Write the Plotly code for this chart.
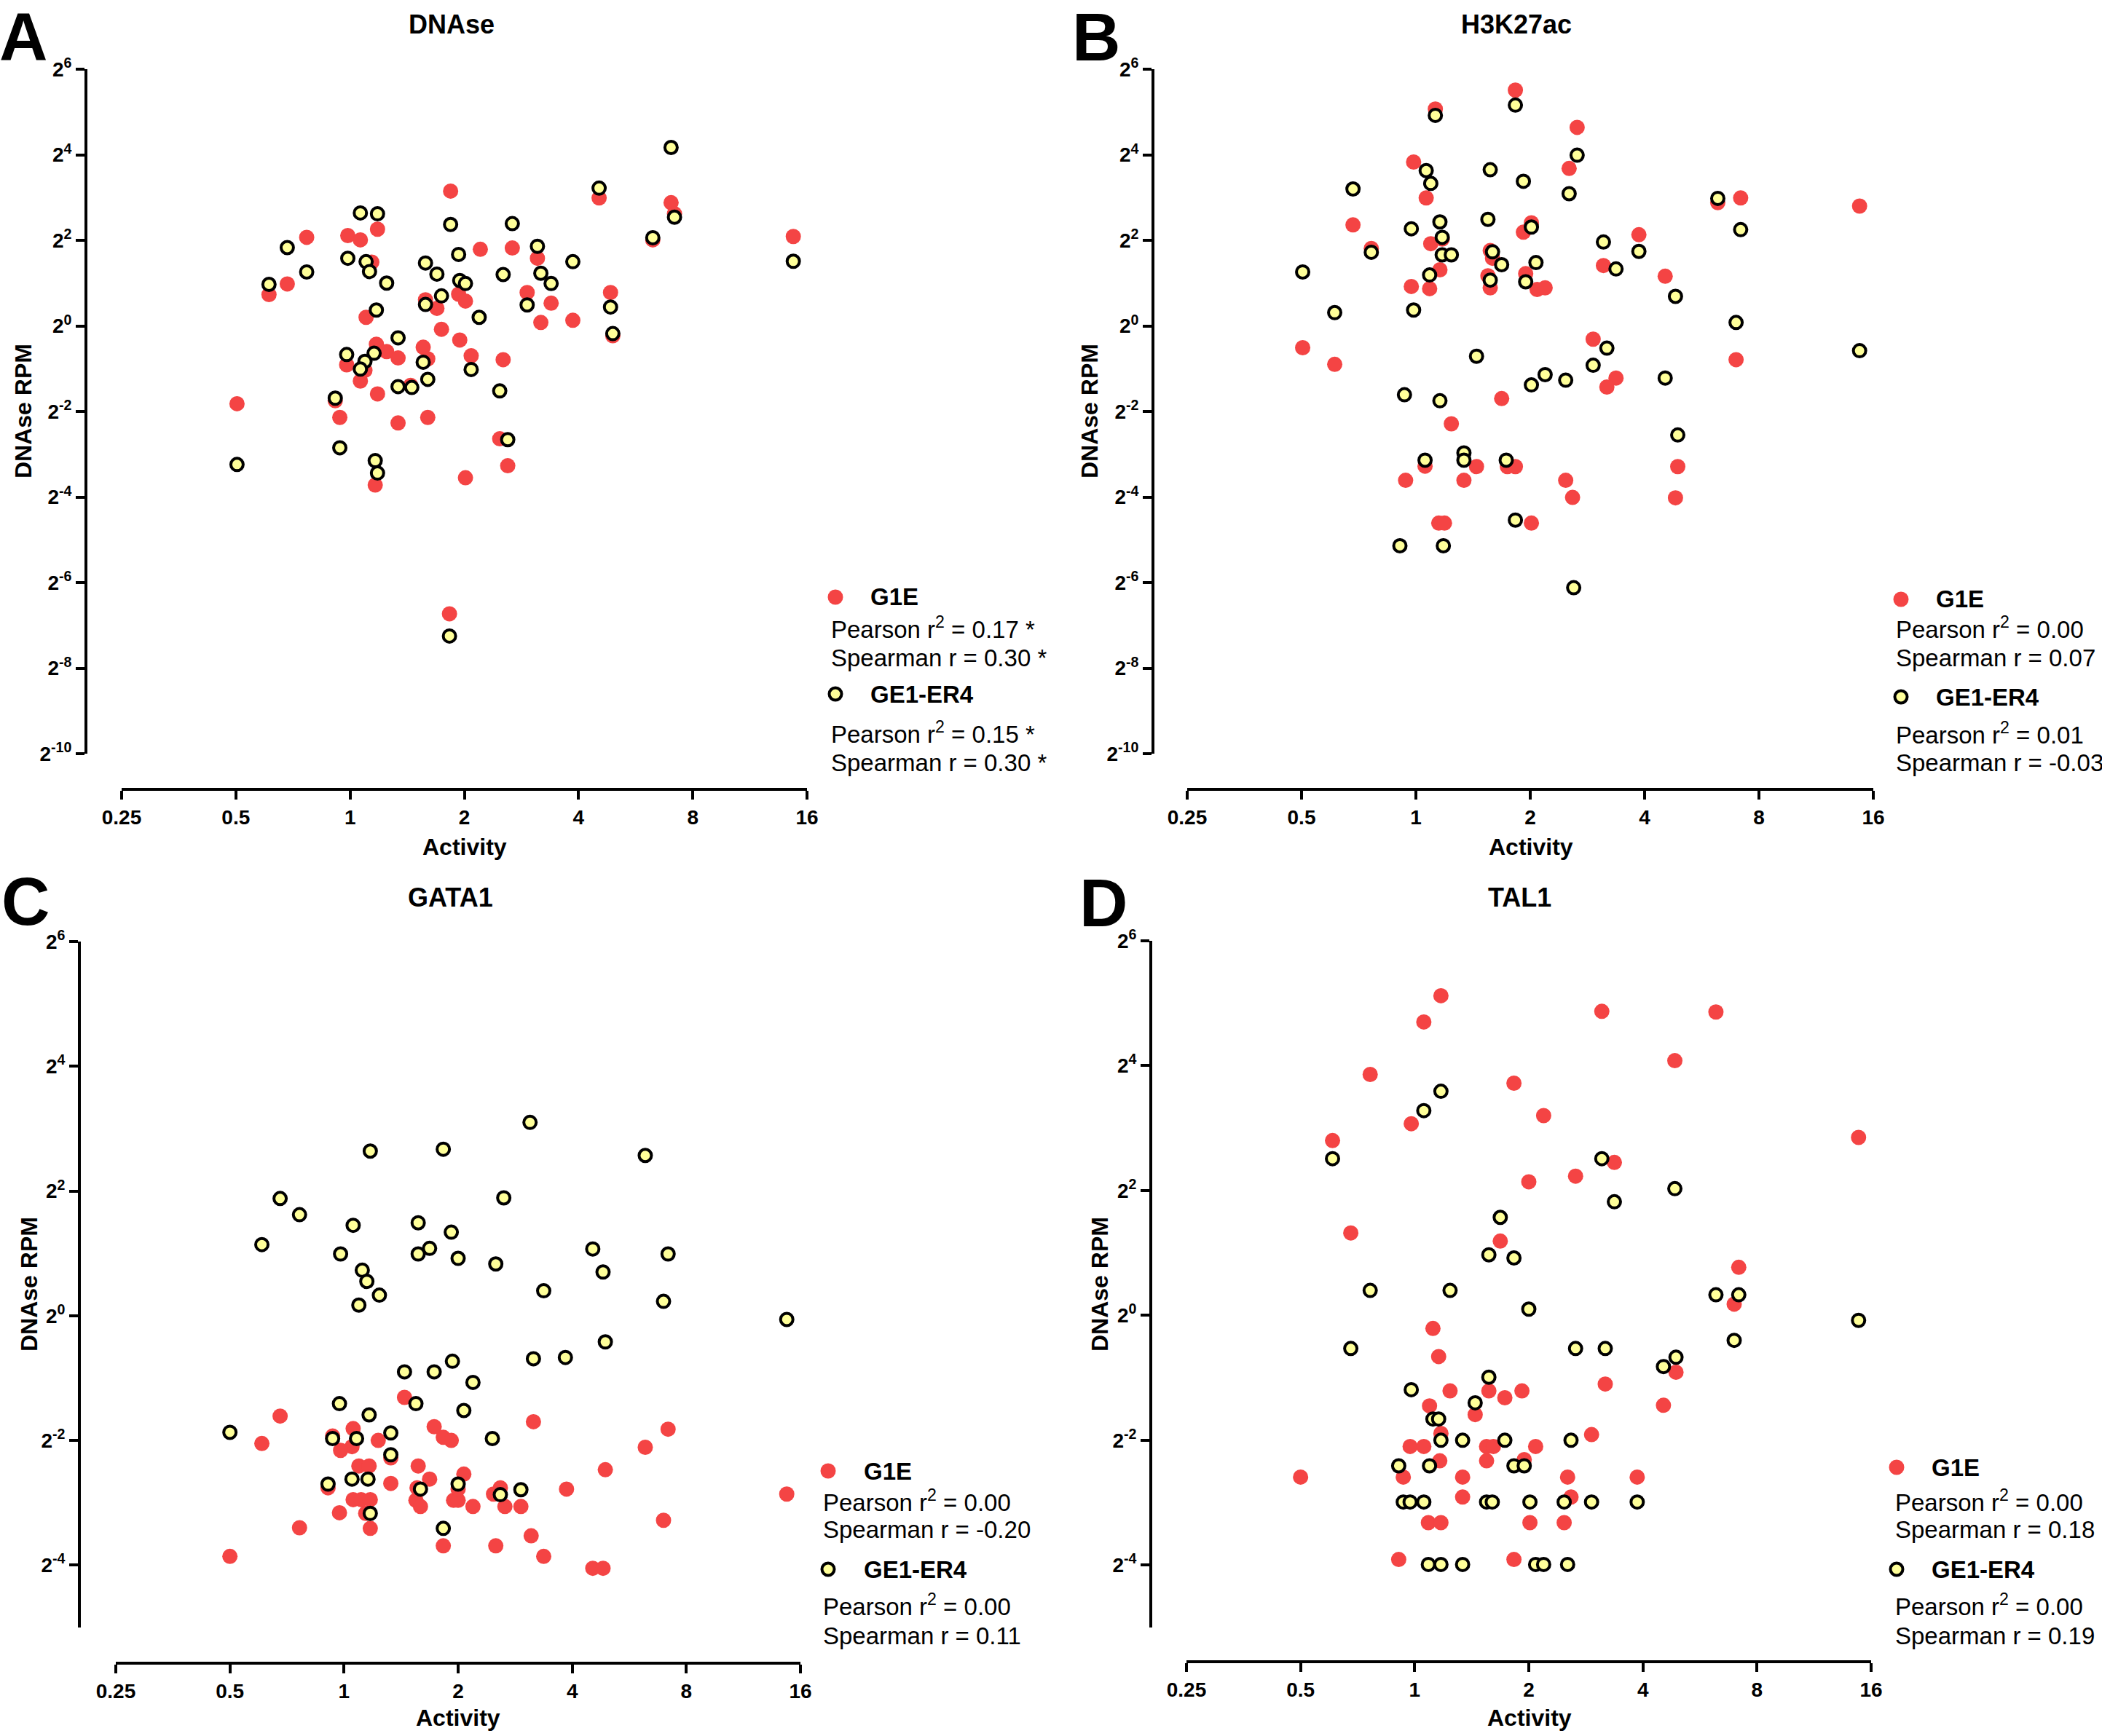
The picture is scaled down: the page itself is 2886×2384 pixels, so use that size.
import plotly.graph_objects as go

W, H = 2886, 2384

# ---------------- data (log2 Activity, log2 DNAse RPM) ----------------
A_G1E_LOG2_ACT = [0.88, 2.18, 2.81, 2.84, 2.65, 3.88, 0.24, -0.02, 0.09, -0.38, 0.19, 1.14, 1.42, 1.64,
                  -0.55, -0.71, 2.28, 1.55, 1.76, 1.95, 1.67, 0.66, 0.76, 0.95, 1.01, 0.14, 0.80, 0.96,
                  1.06, 1.34, 0.64, 0.68, 0.23, 0.32, 0.42, -0.03, 0.13, 0.09, 0.24, 0.53, -0.13, -0.09,
                  0.42, 0.68, 1.31, 1.38, 1.01, 0.22, 2.30, -0.99, 0.87]
A_G1E_LOG2_RPM = [3.15, 2.99, 2.88, 2.62, 2.01, 2.09, 2.26, 2.11, 2.01, 2.07, 1.49, 1.79, 1.82, 1.58,
                  0.98, 0.73, 0.78, 0.78, 0.53, 0.13, 0.08, 0.61, 0.41, 0.74, 0.58, 0.20, -0.08, -0.33,
                  -0.70, -0.79, -0.50, -0.77, -0.43, -0.60, -0.75, -0.91, -1.04, -1.29, -1.59, -1.39, -1.75, -2.14,
                  -2.27, -2.14, -2.64, -3.27, -3.55, -3.72, -0.23, -1.82, -6.73]
A_ER4_LOG2_ACT = [2.81, 2.18, 2.84, 2.65, 3.88, 0.09, 0.24, 0.88, 1.42, -0.55, -0.38, -0.71, -0.02, 0.14,
                  0.17, 0.32, 0.66, 0.76, 0.95, 0.96, 1.01, 0.80, 0.66, 1.13, 1.34, 1.64, 1.67, 1.76,
                  1.95, 1.55, 0.23, 2.28, 2.30, 0.42, -0.03, 0.21, 0.13, 0.09, 0.64, 1.06, 0.68, 0.42,
                  0.54, 1.31, -0.13, 1.38, -0.09, 0.22, 0.24, -0.99, 0.87]
A_ER4_LOG2_RPM = [4.17, 3.22, 2.54, 2.06, 1.51, 2.64, 2.62, 2.37, 2.39, 1.83, 1.26, 0.97, 1.58, 1.50,
                  1.27, 1.00, 1.47, 1.21, 1.67, 1.06, 0.99, 0.70, 0.50, 0.20, 1.20, 1.86, 1.23, 0.99,
                  1.50, 0.49, 0.37, 0.44, -0.18, -0.28, -0.67, -0.64, -0.83, -1.01, -0.85, -1.02, -1.25, -1.42,
                  -1.44, -1.52, -1.69, -2.66, -2.85, -3.15, -3.44, -3.24, -7.25]

B_G1E_LOG2_ACT = [0.87, 0.17, 1.41, -0.02, 1.34, 0.09, 2.84, 2.64, 3.88, -0.55, -0.39, 1.01, 0.94, 0.13,
                  0.23, 0.21, -0.04, 0.12, 0.65, 0.67, 0.63, 0.65, 0.96, 1.06, 1.13, 1.64, 1.95, 2.18,
                  2.80, 1.55, 1.75, 1.67, 0.75, -0.99, -0.71, 0.31, 0.08, 0.53, 0.42, -0.09, 0.80, 0.87,
                  1.31, 1.37, 2.29, 2.27, 0.20, 0.25, 1.01]
B_G1E_LOG2_RPM = [5.51, 5.07, 4.64, 3.83, 3.68, 2.99, 2.99, 2.88, 2.80, 2.36, 1.81, 2.41, 2.19, 1.92,
                  2.03, 1.31, 0.92, 0.87, 1.76, 1.58, 1.17, 0.89, 1.22, 0.85, 0.89, 1.41, 2.13, 1.16,
                  -0.79, -0.31, -1.22, -1.43, -1.70, -0.51, -0.90, -2.29, -3.28, -3.29, -3.61, -3.61, -3.29, -3.29,
                  -3.61, -4.01, -3.29, -4.02, -4.61, -4.61, -4.61]
B_ER4_LOG2_ACT = [0.87, 0.17, 1.41, 0.09, 0.65, 0.13, 0.94, 1.34, -0.55, 2.64, 2.84, -0.04, 0.21, 0.63,
                  1.01, 0.23, -0.39, 0.23, 0.31, 0.67, 0.75, 1.05, 0.65, 0.96, 0.12, -0.99, 1.64, 1.95,
                  1.75, 2.27, -0.71, -0.02, 2.80, 0.53, 1.67, 1.55, 1.13, 1.01, 1.31, 2.18, -0.10, 0.21,
                  2.29, 0.08, 0.42, 0.42, 0.79, 0.87, -0.14, 0.24, 1.38, 3.88]
B_ER4_LOG2_RPM = [5.16, 4.92, 3.99, 3.63, 3.65, 3.33, 3.38, 3.09, 3.20, 2.98, 2.25, 2.27, 2.43, 2.49,
                  2.31, 2.07, 1.72, 1.66, 1.66, 1.73, 1.43, 1.48, 1.07, 1.03, 1.19, 1.26, 1.96, 1.74,
                  1.33, 0.69, 0.31, 0.37, 0.08, -0.71, -0.52, -0.92, -1.14, -1.38, -1.27, -1.22, -1.61, -1.75,
                  -2.55, -3.14, -2.97, -3.14, -3.14, -4.54, -5.14, -5.14, -6.12, -0.58]

C_G1E_LOG2_ACT = [-0.56, -0.72, -1.00, -0.39, 2.84, 2.64, 2.29, 2.80, 2.18, 2.27, 3.88, 0.53, 1.66, 0.79,
                  0.87, 0.94, 0.08, 0.30, -0.10, 0.07, -0.03, 0.13, 0.22, 0.41, 0.65, 0.75, 1.05, 0.41,
                  0.64, 0.63, 0.67, 0.96, 1.00, 1.00, 1.13, 1.31, 1.37, 1.41, 1.55, 1.95, -0.14, -0.04,
                  0.08, 0.15, 0.23, 0.19, 0.23, 0.87, 1.33, 1.64, 1.75]
C_G1E_LOG2_RPM = [-1.61, -2.05, -3.86, -3.40, -1.82, -2.11, -2.47, -3.28, -4.05, -4.05, -2.86, -1.31, -1.70, -1.78,
                  -1.95, -2.00, -1.81, -2.00, -1.93, -2.10, -2.16, -2.41, -2.41, -2.28, -2.41, -2.62, -2.54, -2.69,
                  -2.76, -2.96, -3.06, -2.96, -2.96, -2.78, -3.06, -2.86, -2.76, -3.06, -3.06, -2.78, -2.76, -3.16,
                  -2.95, -2.95, -2.95, -3.17, -3.41, -3.69, -3.69, -3.53, -3.86]
C_ER4_LOG2_ACT = [1.63, 0.23, 0.87, 2.64, -0.56, -0.39, 1.40, 0.08, 0.65, 0.94, -0.72, -0.03, 0.65, 0.75,
                  1.00, 1.33, 2.18, 2.84, 2.27, 0.16, 0.20, 0.31, 0.13, 1.75, 2.80, 3.88, 2.29, 1.66,
                  1.94, 0.95, 0.53, 0.79, 1.13, -0.04, 0.63, 1.05, 0.22, -1.00, -0.10, 0.11, 0.41, 1.30,
                  0.41, -0.14, 0.07, 0.21, 0.67, 1.00, 1.37, 1.55, 0.23, 0.87]
C_ER4_LOG2_RPM = [3.10, 2.64, 2.67, 2.57, 1.88, 1.62, 1.89, 1.45, 1.49, 1.34, 1.14, 0.99, 0.99, 1.08,
                  0.92, 0.83, 1.07, 0.99, 0.70, 0.73, 0.55, 0.33, 0.17, 0.40, 0.23, -0.06, -0.42, -0.69,
                  -0.67, -0.73, -0.90, -0.90, -1.07, -1.41, -1.41, -1.52, -1.59, -1.87, -1.97, -1.97, -1.88, -1.97,
                  -2.23, -2.70, -2.62, -2.62, -2.78, -2.70, -2.87, -2.79, -3.17, -3.41]

D_G1E_LOG2_ACT = [0.23, 0.08, 1.64, 2.64, 2.28, -0.39, 0.87, 1.13, -0.03, -0.72, 3.89, 1.75, 1.41, 1.00,
                  -0.56, 0.75, 2.84, 2.80, 0.16, -1.00, 2.29, 2.18, 0.21, 0.31, 0.65, 0.79, 0.94, 1.67,
                  0.13, 0.53, 1.55, 0.23, -0.04, 0.08, 0.63, 0.69, 1.06, 0.22, 0.63, 0.96, -0.10, 0.42,
                  1.34, 1.95, 0.42, 1.37, 0.12, 0.23, 1.01, 1.31, -0.14, 0.87]
D_G1E_LOG2_RPM = [5.12, 4.70, 4.87, 4.86, 4.08, 3.86, 3.72, 3.20, 3.07, 2.80, 2.85, 2.45, 2.23, 2.14,
                  1.32, 1.19, 0.77, 0.18, -0.21, -2.59, -0.91, -1.44, -0.66, -1.21, -1.21, -1.32, -1.21, -1.10,
                  -1.45, -1.59, -1.91, -1.89, -2.10, -2.10, -2.10, -2.10, -2.10, -2.33, -2.33, -2.31, -2.59, -2.59,
                  -2.59, -2.59, -2.91, -2.91, -3.32, -3.32, -3.32, -3.32, -3.91, -3.91]
D_ER4_LOG2_ACT = [0.23, 0.08, -0.72, 1.64, 2.28, 1.75, 0.75, 0.65, 0.87, -0.39, 0.31, 1.00, 2.64, 2.84,
                  3.89, 2.80, -0.56, 1.41, 1.67, 2.29, 2.18, 0.65, -0.03, 0.53, 0.16, 0.21, 0.23, 0.42,
                  0.79, 1.37, -0.14, 0.13, 0.87, 0.96, -0.10, -0.04, 0.08, 0.63, 0.68, 1.01, 1.31, 1.55,
                  1.95, 0.12, 0.23, 0.42, 1.06, 1.13, 1.34]
D_ER4_LOG2_RPM = [3.59, 3.28, 2.51, 2.51, 2.03, 1.82, 1.57, 0.97, 0.92, 0.40, 0.40, 0.10, 0.33, 0.33,
                  -0.08, -0.40, -0.53, -0.53, -0.53, -0.67, -0.82, -0.99, -1.19, -1.40, -1.66, -1.66, -2.00, -2.00,
                  -2.00, -2.00, -2.41, -2.41, -2.41, -2.41, -2.99, -2.99, -2.99, -2.99, -2.99, -2.99, -2.99, -2.99,
                  -2.99, -3.99, -3.99, -3.99, -3.99, -3.99, -3.99]

PANEL_TITLES = ["DNAse", "H3K27ac", "GATA1", "TAL1"]
PANEL_LETTERS = ["A", "B", "C", "D"]
SERIES_NAMES = ["G1E", "GE1-ER4"]
G1E_STATS = [("0.17 *", "0.30 *"), ("0.00", "0.07"), ("0.00", "-0.20"), ("0.00", "0.18")]
ER4_STATS = [("0.15 *", "0.30 *"), ("0.01", "-0.03"), ("0.00", "0.11"), ("0.00", "0.19")]

X_TICKVALS = [-2, -1, 0, 1, 2, 3, 4]
X_TICKTEXT = ["0.25", "0.5", "1", "2", "4", "8", "16"]
Y_TICKS_AB = [6, 4, 2, 0, -2, -4, -6, -8, -10]
Y_TICKS_CD = [6, 4, 2, 0, -2, -4]

DATA = [
    (A_G1E_LOG2_ACT, A_G1E_LOG2_RPM, A_ER4_LOG2_ACT, A_ER4_LOG2_RPM),
    (B_G1E_LOG2_ACT, B_G1E_LOG2_RPM, B_ER4_LOG2_ACT, B_ER4_LOG2_RPM),
    (C_G1E_LOG2_ACT, C_G1E_LOG2_RPM, C_ER4_LOG2_ACT, C_ER4_LOG2_RPM),
    (D_G1E_LOG2_ACT, D_G1E_LOG2_RPM, D_ER4_LOG2_ACT, D_ER4_LOG2_RPM),
]

# ---------------- layout geometry (pixels) ----------------
GEOM = [
    dict(xdom=(167, 1108), ydom=(95, 1035), yline=118, xline=1084, yr=(-10, 6), yt=Y_TICKS_AB,
         title=(620, 34), letter=(32, 50), ytitle=(32, 565), xtitle=(638, 1163),
         leg=dict(mx=1147, nx=1193, sx=1139, ys=[820, 862, 903, 953, 1006, 1047])),
    dict(xdom=(1630, 2572), ydom=(95, 1035), yline=1583, xline=1084, yr=(-10, 6), yt=Y_TICKS_AB,
         title=(2082, 34), letter=(1505, 51), ytitle=(1496, 565), xtitle=(2102, 1163),
         leg=dict(mx=2610, nx=2656, sx=2601, ys=[823, 862, 903, 957, 1007, 1047])),
    dict(xdom=(159, 1099), ydom=(1293, 2235), yline=109, xline=2284, yr=(-5, 6), yt=Y_TICKS_CD,
         title=(618, 1232), letter=(35, 1238), ytitle=(40, 1764), xtitle=(629, 2359),
         leg=dict(mx=1137, nx=1184, sx=1128, ys=[2020, 2061, 2100, 2155, 2204, 2246])),
    dict(xdom=(1629, 2569), ydom=(1292, 2235), yline=1580, xline=2282, yr=(-5, 6), yt=Y_TICKS_CD,
         title=(2086, 1232), letter=(1515, 1240), ytitle=(1510, 1764), xtitle=(2100, 2359),
         leg=dict(mx=2604, nx=2650, sx=2600, ys=[2015, 2061, 2100, 2155, 2204, 2246])),
]

RED = "#F44444"
YEL = "#FFFF99"
FONT = "Liberation Sans, Arial, Helvetica, sans-serif"


def fx(p):
    return p / W


def fy(p):
    return 1 - p / H


fig = go.Figure()
annotations = []
shapes = []
layout_axes = {}

for i, (g, d) in enumerate(zip(GEOM, DATA)):
    n = "" if i == 0 else str(i + 1)
    xa, ya = "x" + n, "y" + n
    g_act, g_rpm, e_act, e_rpm = d
    fig.add_trace(go.Scatter(x=g_act, y=g_rpm, mode="markers", xaxis=xa, yaxis=ya,
                             name=SERIES_NAMES[0], showlegend=False,
                             marker=dict(color=RED, size=21, line=dict(width=0))))
    fig.add_trace(go.Scatter(x=e_act, y=e_rpm, mode="markers", xaxis=xa, yaxis=ya,
                             name=SERIES_NAMES[1], showlegend=False,
                             marker=dict(color=YEL, size=17, line=dict(width=4, color="black"))))

    layout_axes["xaxis" + n] = dict(
        domain=[fx(g["xdom"][0]), fx(g["xdom"][1])], range=[-2, 4], anchor="free",
        position=fy(g["xline"]), showline=True, linecolor="black", linewidth=4,
        ticks="outside", ticklen=12, tickwidth=4, tickcolor="black",
        tickvals=X_TICKVALS, ticktext=X_TICKTEXT,
        tickfont=dict(family=FONT, size=28, color="black", weight="bold"),
        showgrid=False, zeroline=False, fixedrange=True, automargin=False)
    layout_axes["yaxis" + n] = dict(
        domain=[fy(g["ydom"][1]), fy(g["ydom"][0])], range=list(g["yr"]), anchor="free",
        position=fx(g["yline"]), showline=True, linecolor="black", linewidth=4,
        ticks="outside", ticklen=12, tickwidth=4, tickcolor="black",
        tickvals=g["yt"], ticktext=["2<sup>%d</sup>" % t for t in g["yt"]],
        tickfont=dict(family=FONT, size=28, color="black", weight="bold"),
        showgrid=False, zeroline=False, fixedrange=True, automargin=False)

    annotations.append(dict(text="<b>%s</b>" % PANEL_TITLES[i], x=fx(g["title"][0]), y=fy(g["title"][1]),
                            xref="paper", yref="paper", showarrow=False, xanchor="center", yanchor="middle",
                            font=dict(family=FONT, size=36, color="black")))
    annotations.append(dict(text="<b>%s</b>" % PANEL_LETTERS[i], x=fx(g["letter"][0]), y=fy(g["letter"][1]),
                            xref="paper", yref="paper", showarrow=False, xanchor="center", yanchor="middle",
                            font=dict(family=FONT, size=92, color="black")))
    annotations.append(dict(text="<b>DNAse RPM</b>", x=fx(g["ytitle"][0]), y=fy(g["ytitle"][1]),
                            xref="paper", yref="paper", showarrow=False, xanchor="center", yanchor="middle",
                            textangle=-90, font=dict(family=FONT, size=32, color="black")))
    annotations.append(dict(text="<b>Activity</b>", x=fx(g["xtitle"][0]), y=fy(g["xtitle"][1]),
                            xref="paper", yref="paper", showarrow=False, xanchor="center", yanchor="middle",
                            font=dict(family=FONT, size=32, color="black")))

    L = g["leg"]
    ys = L["ys"]
    lines = [
        (L["nx"], ys[0], "<b>%s</b>" % SERIES_NAMES[0]),
        (L["sx"], ys[1], "Pearson r<sup>2</sup> = %s" % G1E_STATS[i][0]),
        (L["sx"], ys[2], "Spearman r = %s" % G1E_STATS[i][1]),
        (L["nx"], ys[3], "<b>%s</b>" % SERIES_NAMES[1]),
        (L["sx"], ys[4], "Pearson r<sup>2</sup> = %s" % ER4_STATS[i][0]),
        (L["sx"], ys[5], "Spearman r = %s" % ER4_STATS[i][1]),
    ]
    for (tx, ty, tt) in lines:
        annotations.append(dict(text=tt, x=fx(tx), y=fy(ty), xref="paper", yref="paper", showarrow=False,
                                xanchor="left", yanchor="middle",
                                font=dict(family=FONT, size=33, color="black")))
    shapes.append(dict(type="circle", xref="paper", yref="paper", xsizemode="pixel", ysizemode="pixel",
                       xanchor=fx(L["mx"]), yanchor=fy(ys[0]), x0=-10.5, x1=10.5, y0=-10.5, y1=10.5,
                       fillcolor=RED, line=dict(width=0)))
    shapes.append(dict(type="circle", xref="paper", yref="paper", xsizemode="pixel", ysizemode="pixel",
                       xanchor=fx(L["mx"]), yanchor=fy(ys[3]), x0=-8.5, x1=8.5, y0=-8.5, y1=8.5,
                       fillcolor=YEL, line=dict(width=4, color="black")))

fig.update_layout(
    width=W, height=H, autosize=False,
    margin=dict(l=0, r=0, t=0, b=0, pad=0),
    paper_bgcolor="white", plot_bgcolor="white",
    showlegend=False,
    annotations=annotations, shapes=shapes,
    font=dict(family=FONT, color="black"),
    **layout_axes,
)

fig.write_html("out.html", config={"displayModeBar": False},
               post_script="document.body.style.margin='0';document.body.style.overflow='hidden';")
